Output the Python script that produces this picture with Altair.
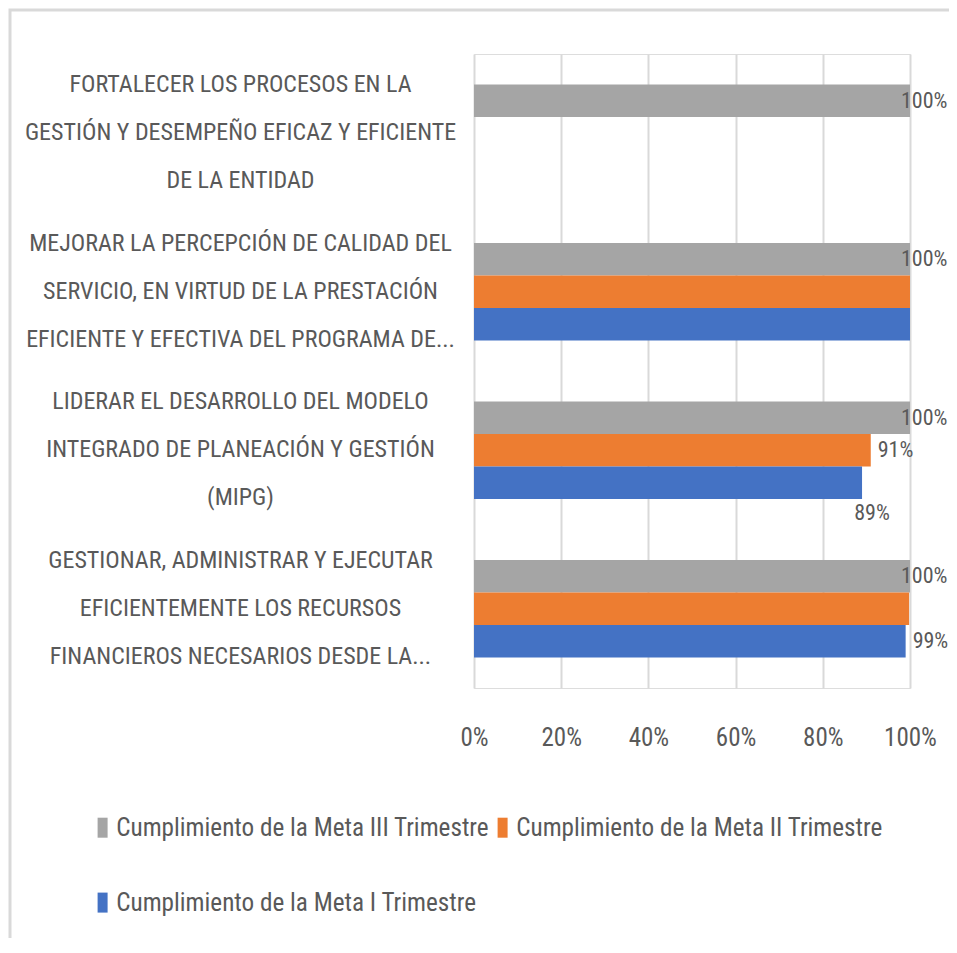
import altair as alt
import pandas as pd

FONT = "Liberation Sans Narrow, Roboto Condensed, DejaVu Sans Condensed, Arial Narrow, sans-serif"
GRIS_TEXTO = "#595959"

# --- data ---------------------------------------------------------------
categorias = [
    ["FORTALECER LOS PROCESOS EN LA", "GESTIÓN Y DESEMPEÑO EFICAZ Y EFICIENTE", "DE LA ENTIDAD"],
    ["MEJORAR LA PERCEPCIÓN DE CALIDAD DEL", "SERVICIO, EN VIRTUD DE LA PRESTACIÓN", "EFICIENTE Y EFECTIVA DEL PROGRAMA DE..."],
    ["LIDERAR EL DESARROLLO DEL  MODELO", "INTEGRADO DE PLANEACIÓN Y GESTIÓN", "(MIPG)"],
    ["GESTIONAR, ADMINISTRAR Y EJECUTAR", "EFICIENTEMENTE LOS RECURSOS", "FINANCIEROS NECESARIOS DESDE LA..."],
]
series = [
    "Cumplimiento de la Meta III Trimestre",
    "Cumplimiento de la Meta II Trimestre",
    "Cumplimiento de la Meta I Trimestre",
]
colores = ["#A5A5A5", "#ED7D31", "#4472C4"]

# values per series, in category order (None = no bar)
meta_III = [1.00, 1.00, 1.00, 1.00]
meta_II = [None, 1.00, 0.91, 0.998]
meta_I = [None, 1.00, 0.89, 0.99]

# which data labels are visible in the original (Excel hid overlapping ones)
etiqueta_III = [True, True, True, True]
etiqueta_II = [False, False, True, False]
etiqueta_I = [False, False, True, True]

# --- table ----------------------------------------------------------------
cat_keys = ["|".join(c) for c in categorias]
rows = []
for s, vals, labs in zip(series, [meta_III, meta_II, meta_I], [etiqueta_III, etiqueta_II, etiqueta_I]):
    for c, v, l in zip(cat_keys, vals, labs):
        if v is not None:
            rows.append({"categoria": c, "serie": s, "valor": v,
                         "texto": f"{round(v * 100):.0f}%", "visible": l})
df = pd.DataFrame(rows)

y_enc = alt.Y(
    "categoria:N",
    sort=cat_keys,
    scale=alt.Scale(paddingInner=0.385, paddingOuter=0.1925),
    axis=alt.Axis(
        title=None, domain=False, ticks=False,
        labelExpr="split(datum.label, '|')",
        labelAlign="center", labelBaseline="middle",
        labelPadding=234, labelLineHeight=48, labelLimit=1000, labelOffset=-48,
        labelFontSize=24, labelColor=GRIS_TEXTO, labelFont=FONT,
    ),
)
yoff_enc = alt.YOffset("serie:N", sort=series, scale=alt.Scale(domain=series, paddingInner=0, paddingOuter=0))
x_enc = alt.X(
    "valor:Q",
    scale=alt.Scale(domain=[0, 1], nice=False),
    axis=alt.Axis(
        title=None, values=[0, 0.2, 0.4, 0.6, 0.8, 1.0], format=".0%",
        domain=False, ticks=False, grid=True, gridColor="#D9D9D9", gridWidth=2,
        labelFontSize=25, labelColor=GRIS_TEXTO, labelFont=FONT,
        labelPadding=37, labelBaseline="top", labelFlush=False,
    ),
)

base = alt.Chart(df)

bars = base.mark_bar().encode(
    y=y_enc,
    yOffset=yoff_enc,
    x=x_enc,
    color=alt.Color(
        "serie:N",
        scale=alt.Scale(domain=series, range=colores),
        legend=alt.Legend(
            title=None, orient="none", legendX=-384, legendY=761,
            values=[series[0], series[2], series[1]],
            columns=2, columnPadding=-4, rowPadding=49,
            symbolType="M-0.5,-1H0.5V1H-0.5Z", symbolSize=400,
            symbolStrokeWidth=0, labelOffset=1,
            labelFontSize=25.2, labelColor=GRIS_TEXTO, labelFont=FONT, labelLimit=1000,
        ),
    ),
)

txt_common = dict(font=FONT, fontSize=22, color=GRIS_TEXTO, baseline="middle")

labels_III = base.transform_filter(
    f"datum.visible && datum.serie == '{series[0]}'"
).mark_text(align="left", dx=-9, **txt_common).encode(
    y=alt.Y("categoria:N", sort=cat_keys), yOffset=yoff_enc, x="valor:Q", text="texto:N"
)
labels_other = base.transform_filter(
    f"datum.visible && datum.serie != '{series[0]}' && datum.valor >= 0.9"
).mark_text(align="left", dx=7, **txt_common).encode(
    y=alt.Y("categoria:N", sort=cat_keys), yOffset=yoff_enc, x="valor:Q", text="texto:N"
)
labels_below = base.transform_filter(
    f"datum.visible && datum.serie != '{series[0]}' && datum.valor < 0.9"
).mark_text(align="center", dx=10, dy=30, **txt_common).encode(
    y=alt.Y("categoria:N", sort=cat_keys), yOffset=yoff_enc, x="valor:Q", text="texto:N"
)

frame = alt.Chart(alt.Data(values=[{"f": 1}])).mark_rect(
    fill=None, stroke="#D9D9D9", strokeWidth=3
).encode(
    x=alt.value(-464), x2=alt.value(490), y=alt.value(-44), y2=alt.value(920)
)

chart = alt.layer(frame, bars, labels_III, labels_other, labels_below).properties(
    width=436, height=634,
    padding={"left": 466, "top": 46, "right": 39, "bottom": 250},
    autosize=alt.AutoSizeParams(type="none"),
).configure_view(stroke=None).configure(background="white")

chart.save("out.html", embed_options={"renderer": "svg", "actions": False})
